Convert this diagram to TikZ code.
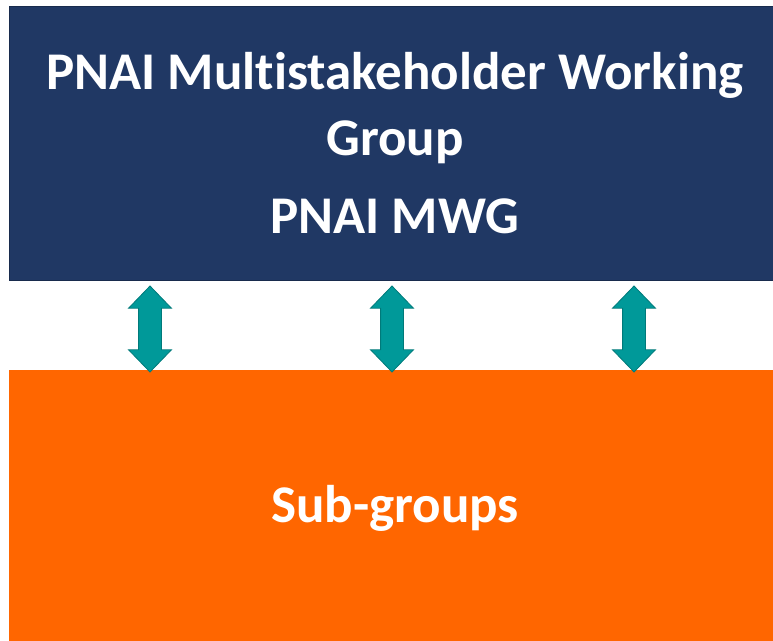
\documentclass[tikz,border=0pt]{standalone}
\usepackage{fontspec}
\setmainfont{Carlito}[Ligatures=NoCommon]
\usepackage{xcolor}
\usetikzlibrary{positioning, shapes.arrows}
\definecolor{navy}{HTML}{203864}
\definecolor{navyline}{HTML}{182B4D}
\definecolor{suborange}{HTML}{FF6600}
\definecolor{teal}{HTML}{009999}
\definecolor{tealline}{HTML}{007A7A}
\tikzset{%
	groupbox/.style={draw=navyline, line width=1pt, rectangle, fill=navy,%
		minimum width=772pt, minimum height=274pt, inner sep=0pt,%
		text=white, font=\bfseries\fontsize{53}{66}\selectfont, align=center},
	subbox/.style={rectangle, fill=suborange, minimum width=772pt,%
		minimum height=276pt, inner sep=0pt, text=white,%
		font=\bfseries\fontsize{53}{60}\selectfont},
	link/.style={double arrow, draw=tealline, fill=teal, line width=0.8pt,%
		minimum height=86pt, inner sep=11pt,%
		double arrow head extend=10pt, double arrow tip angle=88,%
		shape border rotate=90}
}
\begin{document}
\begin{tikzpicture}[x=1pt, y=-1pt]
	\useasboundingbox (0,0) rectangle (773,640);
	\clip (0,0) rectangle (773,640);
	\node[groupbox] (mwg) at (395,143) {PNAI Multistakeholder Working\\Group\\[12pt]PNAI MWG};
	\node[subbox] (sub) at (395,508) {Sub-groups};

	\foreach \x/\n in {150/l, 392/m, 634/r}
		\node[link] (\n) at (\x,329) {};
\end{tikzpicture}
\end{document}
